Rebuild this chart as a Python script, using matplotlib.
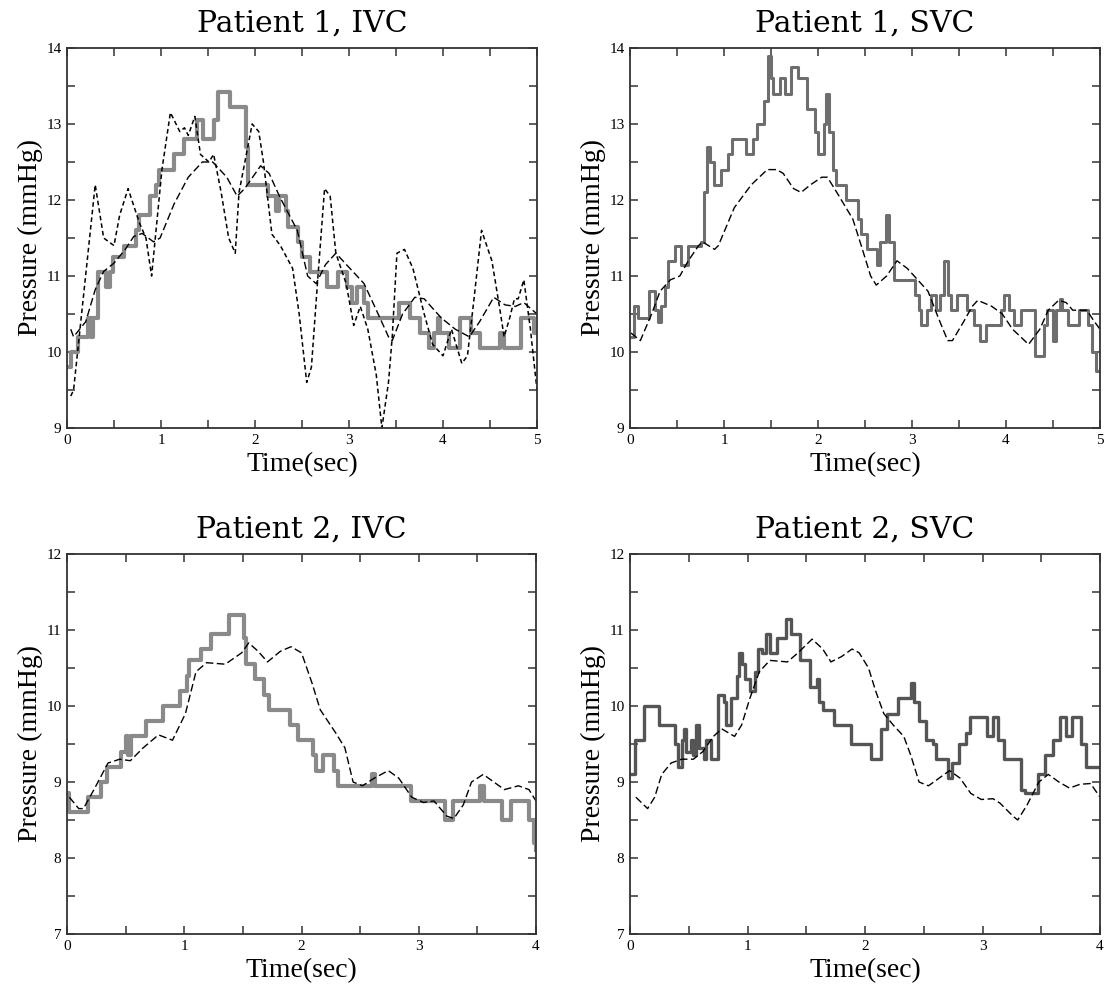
import numpy as np
import matplotlib
matplotlib.use("Agg")
import matplotlib.pyplot as plt
from matplotlib.ticker import MultipleLocator


# Data
# -----------------------------------------------------------------------------------
# Patient 1, IVC
p1i_step_t = [0, 0.04, 0.12, 0.22, 0.25, 0.28, 0.33, 0.42, 0.46, 0.49, 0.61, 0.73, 0.77, 0.88, 0.95, 0.98,
              1.14, 1.24, 1.38, 1.45, 1.56, 1.61, 1.73, 1.9, 1.93, 2.14, 2.22, 2.26, 2.33, 2.35, 2.46, 2.5,
              2.58, 2.77, 2.88, 2.98, 3.03, 3.08, 3.16, 3.2, 3.53, 3.65, 3.76, 3.85, 3.9, 3.95, 3.97, 4.06,
              4.18, 4.3, 4.39, 4.61, 4.65, 4.83, 4.97, 5.0]
p1i_step_p = [9.8, 10.0, 10.2, 10.45, 10.2, 10.45, 11.05, 10.85, 11.05, 11.25, 11.4, 11.6, 11.8, 12.05, 12.2, 12.4,
              12.6, 12.8, 13.05, 12.8, 13.05, 13.42, 13.22, 12.7, 12.2, 12.05, 11.85, 12.05, 11.85, 11.65, 11.45, 11.25,
              11.05, 10.85, 11.05, 10.85, 10.65, 10.85, 10.65, 10.45, 10.65, 10.45, 10.25, 10.05, 10.25, 10.45, 10.25, 10.05,
              10.45, 10.25, 10.05, 10.25, 10.05, 10.45, 10.25, 10.25]
p1i_model_t = [0.04, 0.07, 0.2, 0.3, 0.39, 0.5, 0.62, 0.71, 0.8, 0.92, 0.99, 1.14, 1.29, 1.44, 1.55, 1.7,
               1.81, 1.89, 2.06, 2.15, 2.26, 2.45, 2.56, 2.65, 2.75, 2.86, 3.01, 3.16, 3.31, 3.42, 3.46, 3.57,
               3.7, 3.8, 3.98, 4.13, 4.28, 4.39, 4.54, 4.66, 4.77, 4.86, 5.0]
p1i_model_p = [10.3, 10.2, 10.4, 10.82, 11.06, 11.17, 11.35, 11.52, 11.56, 11.45, 11.5, 11.95, 12.3, 12.5, 12.5, 12.3,
               12.05, 12.15, 12.45, 12.35, 12.05, 11.6, 11.0, 10.9, 11.15, 11.3, 11.1, 10.9, 10.5, 10.2, 10.15, 10.5,
               10.72, 10.7, 10.45, 10.3, 10.2, 10.4, 10.72, 10.62, 10.6, 10.65, 10.5]
p1i_alt_t = [0.04, 0.07, 0.3, 0.39, 0.5, 0.56, 0.65, 0.77, 0.84, 0.9, 1.01, 1.1, 1.2, 1.25, 1.29, 1.36,
             1.42, 1.51, 1.56, 1.64, 1.72, 1.79, 1.83, 1.97, 2.04, 2.09, 2.18, 2.27, 2.4, 2.47, 2.55, 2.6,
             2.67, 2.74, 2.8, 2.86, 2.97, 3.05, 3.12, 3.2, 3.29, 3.35, 3.42, 3.46, 3.51, 3.59, 3.68, 3.8,
             3.89, 4.0, 4.09, 4.2, 4.26, 4.33, 4.41, 4.52, 4.6, 4.65, 4.71, 4.76, 4.8, 4.86, 4.93, 5.0]
p1i_alt_p = [9.42, 9.5, 12.2, 11.5, 11.4, 11.8, 12.15, 11.7, 11.5, 11.0, 12.4, 13.15, 12.9, 12.95, 12.85, 13.1,
             12.6, 12.5, 12.6, 12.1, 11.5, 11.3, 12.1, 13.0, 12.9, 12.5, 11.55, 11.4, 11.1, 10.5, 9.6, 9.8,
             11.0, 12.15, 12.05, 11.3, 10.9, 10.35, 10.6, 10.3, 9.7, 9.0, 9.6, 10.2, 11.3, 11.35, 11.1, 10.5,
             10.1, 9.95, 10.3, 9.85, 9.95, 10.7, 11.6, 11.2, 10.6, 10.2, 10.45, 10.7, 10.7, 10.95, 10.3, 9.5]

# Patient 1, SVC
p1s_step_t = [0, 0.04, 0.08, 0.2, 0.27, 0.3, 0.33, 0.37, 0.4, 0.48, 0.54, 0.62, 0.75, 0.79, 0.82, 0.85,
              0.89, 0.97, 1.04, 1.08, 1.23, 1.31, 1.35, 1.43, 1.47, 1.5, 1.52, 1.6, 1.65, 1.71, 1.79, 1.88,
              1.97, 2.0, 2.06, 2.09, 2.12, 2.16, 2.19, 2.3, 2.43, 2.46, 2.52, 2.63, 2.66, 2.72, 2.76, 2.81,
              3.03, 3.07, 3.1, 3.16, 3.2, 3.26, 3.3, 3.34, 3.38, 3.42, 3.48, 3.58, 3.66, 3.72, 3.79, 3.95,
              3.98, 4.03, 4.08, 4.16, 4.31, 4.4, 4.44, 4.5, 4.53, 4.57, 4.6, 4.66, 4.78, 4.87, 4.92, 4.96, 5.0]
p1s_step_p = [10.2, 10.6, 10.45, 10.8, 10.55, 10.4, 10.6, 10.85, 11.2, 11.4, 11.15, 11.4, 11.45, 12.1, 12.7, 12.5,
              12.2, 12.4, 12.6, 12.8, 12.6, 12.8, 13.0, 13.3, 13.9, 13.6, 13.4, 13.6, 13.4, 13.75, 13.6, 13.2,
              12.9, 12.6, 13.0, 13.4, 12.9, 12.4, 12.2, 12.0, 11.75, 11.55, 11.35, 11.15, 11.45, 11.8, 11.45, 10.95,
              10.75, 10.55, 10.35, 10.55, 10.75, 10.55, 10.75, 11.2, 10.75, 10.55, 10.75, 10.55, 10.35, 10.15, 10.35, 10.55,
              10.75, 10.55, 10.35, 10.55, 9.95, 10.35, 10.55, 10.15, 10.55, 10.7, 10.55, 10.35, 10.55, 10.35, 10.0, 9.75, 9.75]
p1s_model_t = [0.01, 0.11, 0.23, 0.32, 0.43, 0.53, 0.62, 0.73, 0.77, 0.9, 0.94, 1.11, 1.29, 1.46, 1.56, 1.63,
               1.74, 1.82, 1.92, 2.04, 2.1, 2.2, 2.37, 2.46, 2.56, 2.62, 2.73, 2.84, 2.95, 3.06, 3.17, 3.28,
               3.38, 3.43, 3.55, 3.64, 3.7, 3.85, 3.96, 4.07, 4.24, 4.36, 4.45, 4.56, 4.64, 4.71, 4.86, 4.94, 5.0]
p1s_model_p = [10.25, 10.15, 10.5, 10.8, 10.95, 11.0, 11.2, 11.4, 11.45, 11.35, 11.4, 11.9, 12.2, 12.4, 12.4, 12.35,
               12.15, 12.1, 12.2, 12.3, 12.3, 12.1, 11.75, 11.4, 11.0, 10.88, 11.0, 11.2, 11.1, 10.95, 10.8, 10.45,
               10.15, 10.15, 10.4, 10.6, 10.68, 10.6, 10.5, 10.3, 10.1, 10.3, 10.55, 10.68, 10.65, 10.55, 10.55, 10.4, 10.3]

# Patient 2, IVC
p2i_step_t = [0, 0.02, 0.18, 0.29, 0.34, 0.46, 0.5, 0.52, 0.55, 0.67, 0.82, 0.96, 1.02, 1.04, 1.14, 1.23,
              1.38, 1.51, 1.53, 1.6, 1.68, 1.72, 1.9, 1.97, 2.1, 2.12, 2.18, 2.28, 2.31, 2.6, 2.63, 2.93,
              3.22, 3.29, 3.52, 3.56, 3.71, 3.79, 3.94, 3.98, 4.0]
p2i_step_p = [8.85, 8.6, 8.8, 9.0, 9.2, 9.4, 9.6, 9.35, 9.6, 9.8, 10.0, 10.2, 10.4, 10.6, 10.75, 10.95,
              11.2, 10.9, 10.55, 10.35, 10.15, 9.95, 9.75, 9.55, 9.35, 9.15, 9.35, 9.15, 8.95, 9.1, 8.95, 8.75,
              8.5, 8.75, 8.95, 8.75, 8.5, 8.75, 8.5, 8.2, 8.1]
p2i_model_t = [0.02, 0.1, 0.14, 0.23, 0.35, 0.45, 0.54, 0.65, 0.78, 0.9, 1.01, 1.1, 1.19, 1.35, 1.49, 1.55,
               1.63, 1.71, 1.82, 1.91, 2.0, 2.09, 2.16, 2.29, 2.37, 2.44, 2.52, 2.62, 2.74, 2.83, 2.94, 3.04,
               3.13, 3.24, 3.3, 3.38, 3.45, 3.55, 3.64, 3.73, 3.85, 3.94, 4.0]
p2i_model_p = [8.8, 8.65, 8.65, 8.9, 9.25, 9.3, 9.28, 9.45, 9.62, 9.55, 9.9, 10.45, 10.57, 10.55, 10.7, 10.83,
               10.72, 10.58, 10.72, 10.78, 10.7, 10.3, 9.95, 9.65, 9.45, 9.0, 8.95, 9.05, 9.15, 9.05, 8.8, 8.73,
               8.75, 8.55, 8.52, 8.7, 9.0, 9.1, 9.0, 8.9, 8.95, 8.9, 8.75]

# Patient 2, SVC
p2s_step_t = [0, 0.04, 0.12, 0.25, 0.38, 0.41, 0.44, 0.46, 0.48, 0.52, 0.54, 0.56, 0.59, 0.63, 0.65, 0.69,
              0.75, 0.8, 0.82, 0.86, 0.91, 0.93, 0.95, 0.98, 1.02, 1.06, 1.09, 1.12, 1.16, 1.19, 1.25, 1.33,
              1.37, 1.45, 1.53, 1.59, 1.61, 1.64, 1.74, 1.88, 2.05, 2.14, 2.19, 2.28, 2.39, 2.42, 2.46, 2.52,
              2.58, 2.6, 2.71, 2.74, 2.8, 2.86, 2.89, 3.04, 3.09, 3.13, 3.18, 3.33, 3.36, 3.47, 3.53, 3.6,
              3.66, 3.71, 3.76, 3.84, 3.88, 4.0]
p2s_step_p = [9.1, 9.55, 10.0, 9.75, 9.5, 9.2, 9.55, 9.7, 9.4, 9.55, 9.35, 9.75, 9.45, 9.3, 9.55, 9.3,
              10.15, 10.05, 9.75, 10.1, 10.4, 10.7, 10.55, 10.35, 10.2, 10.45, 10.75, 10.7, 10.95, 10.7, 10.9, 11.15,
              10.95, 10.6, 10.25, 10.35, 10.05, 9.95, 9.75, 9.5, 9.3, 9.7, 9.9, 10.1, 10.3, 10.05, 9.8, 9.55,
              9.5, 9.3, 9.05, 9.25, 9.5, 9.65, 9.85, 9.6, 9.85, 9.55, 9.3, 8.9, 8.85, 9.1, 9.35, 9.55,
              9.85, 9.6, 9.85, 9.5, 9.2, 9.2]
p2s_model_t = [0.05, 0.15, 0.21, 0.27, 0.35, 0.44, 0.54, 0.62, 0.71, 0.78, 0.89, 0.95, 1.02, 1.1, 1.19, 1.34,
               1.43, 1.55, 1.64, 1.71, 1.8, 1.89, 1.95, 2.03, 2.09, 2.16, 2.24, 2.33, 2.39, 2.46, 2.54, 2.63,
               2.72, 2.81, 2.9, 2.99, 3.09, 3.15, 3.26, 3.3, 3.38, 3.48, 3.56, 3.65, 3.74, 3.83, 3.92, 4.0]
p2s_model_p = [8.8, 8.65, 8.8, 9.1, 9.25, 9.3, 9.3, 9.4, 9.6, 9.7, 9.6, 9.75, 10.1, 10.45, 10.6, 10.58,
               10.7, 10.88, 10.75, 10.58, 10.65, 10.75, 10.7, 10.5, 10.2, 9.9, 9.75, 9.6, 9.35, 9.0, 8.95, 9.05,
               9.15, 9.05, 8.85, 8.77, 8.78, 8.72, 8.55, 8.5, 8.7, 9.0, 9.1, 9.0, 8.92, 8.97, 8.98, 8.8]
# -----------------------------------------------------------------------------------


# Plot
# -----------------------------------------------------------------------------------
W, H = 1107, 985
fig = plt.figure(figsize=(W / 100, H / 100), dpi=100)
fig.patch.set_facecolor("white")

serif = ["Liberation Serif", "DejaVu Serif"]


def make_axes(left, top, right, bottom):
    return fig.add_axes([left / W, 1 - bottom / H, (right - left) / W, (bottom - top) / H])


def style(ax, title, xmax, ymin, ymax):
    ax.set_xlim(0, xmax)
    ax.set_ylim(ymin, ymax)
    ax.xaxis.set_major_locator(MultipleLocator(1))
    ax.xaxis.set_minor_locator(MultipleLocator(0.5))
    ax.yaxis.set_major_locator(MultipleLocator(1))
    ax.yaxis.set_minor_locator(MultipleLocator(0.5))
    ax.tick_params(which="both", direction="in", top=True, right=True, length=6, width=1.1, color="#333333")
    ax.tick_params(axis="x", pad=4)
    ax.tick_params(axis="y", pad=4)
    for lab in ax.get_xticklabels() + ax.get_yticklabels():
        lab.set_fontfamily(serif)
        lab.set_fontsize(11)
    for sp in ax.spines.values():
        sp.set_linewidth(1.3)
        sp.set_color("#333333")
    ax.set_xlabel("Time(sec)", fontsize=20, family=serif, labelpad=4)
    ax.set_ylabel("Pressure (mmHg)", fontsize=20, family=serif, labelpad=2)
    ax.set_title(title, fontsize=21.5, family="DejaVu Serif", pad=12)


ax1 = make_axes(67, 48, 537, 428)
ax2 = make_axes(630, 48, 1100, 428)
ax3 = make_axes(67, 554, 536, 934)
ax4 = make_axes(630, 554, 1100, 934)

long_dash = (0, (5.5, 2.5))
short_dash = (0, (3, 2))

ax1.plot(p1i_step_t, p1i_step_p, drawstyle="steps-post", color="#8a8a8a", lw=3.0)
ax1.plot(p1i_alt_t, p1i_alt_p, color="black", lw=1.1, linestyle=short_dash)
ax1.plot(p1i_model_t, p1i_model_p, color="black", lw=1.0, linestyle=long_dash)
style(ax1, "Patient 1, IVC", 5, 9, 14)

ax2.plot(p1s_step_t, p1s_step_p, drawstyle="steps-post", color="#6e6e6e", lw=2.2)
ax2.plot(p1s_model_t, p1s_model_p, color="black", lw=1.0, linestyle=long_dash)
style(ax2, "Patient 1, SVC", 5, 9, 14)

ax3.plot(p2i_step_t, p2i_step_p, drawstyle="steps-post", color="#8a8a8a", lw=3.0)
ax3.plot(p2i_model_t, p2i_model_p, color="black", lw=1.0, linestyle=long_dash)
style(ax3, "Patient 2, IVC", 4, 7, 12)

ax4.plot(p2s_step_t, p2s_step_p, drawstyle="steps-post", color="#555555", lw=2.4)
ax4.plot(p2s_model_t, p2s_model_p, color="black", lw=1.0, linestyle=long_dash)
style(ax4, "Patient 2, SVC", 4, 7, 12)

fig.savefig("out.png", dpi=100)
# -----------------------------------------------------------------------------------
